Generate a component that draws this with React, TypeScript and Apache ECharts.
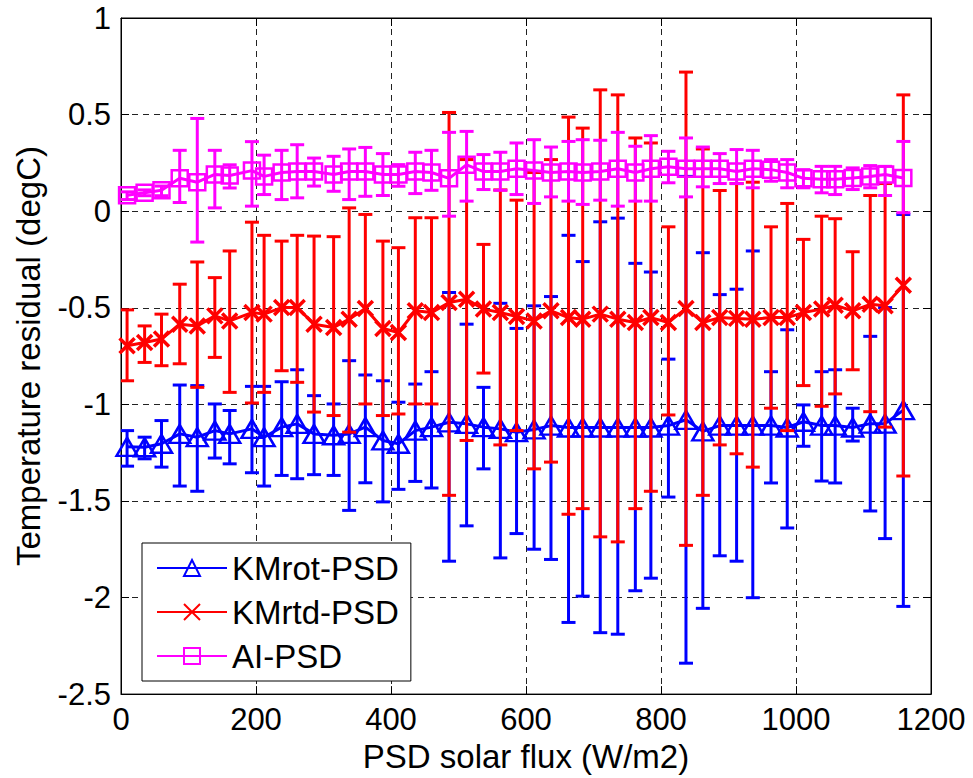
import React, { useEffect, useRef } from "react";
import * as echarts from "echarts";

// Solar flux bin centres (W/m2)
const fluxBins = [
  9, 35, 60, 87, 113, 139, 161, 194, 212, 238, 261, 286, 315, 338, 362, 388, 411, 436, 460, 486,
  512, 537, 562, 586, 612, 637, 663, 684, 710, 736, 762, 785, 811, 837, 862, 887, 912, 936, 963,
  987, 1011, 1038, 1058, 1084, 1110, 1132, 1159,
];

// KMrot-PSD
const kmrotMean = [
  -1.22, -1.222, -1.204, -1.153, -1.17, -1.136, -1.153, -1.127, -1.17, -1.118, -1.101, -1.153,
  -1.16, -1.153, -1.118, -1.187, -1.204, -1.136, -1.118, -1.093, -1.101, -1.118, -1.127, -1.144,
  -1.13, -1.11, -1.12, -1.12, -1.12, -1.12, -1.12, -1.12, -1.11, -1.08, -1.14, -1.11, -1.11, -1.11,
  -1.11, -1.12, -1.09, -1.11, -1.11, -1.12, -1.1, -1.1, -1.03,
];
const kmrotLow = [
  -1.32, -1.282, -1.325, -1.423, -1.45, -1.278, -1.308, -1.354, -1.423, -1.368, -1.385, -1.364,
  -1.368, -1.549, -1.406, -1.505, -1.44, -1.399, -1.433, -1.812, -1.629, -1.334, -1.795, -1.669,
  -1.75, -1.803, -2.129, -1.993, -2.182, -2.19, -1.965, -1.9, -1.48, -2.34, -2.056, -1.784, -1.812,
  -2.001, -1.407, -1.64, -1.217, -1.397, -1.407, -1.19, -1.552, -1.695, -2.046,
];
const kmrotHigh = [
  -1.136, -1.17, -1.084, -0.9, -0.903, -0.998, -1.032, -0.907, -0.907, -0.883, -0.821, -0.955,
  -0.998, -0.774, -0.848, -0.878, -0.989, -0.895, -0.831, -0.421, -0.585, -0.912, -0.477, -0.607,
  -0.49, -0.442, -0.125, -0.261, -0.055, -0.036, -0.27, -0.315, -0.766, 0.18, -0.215, -0.432,
  -0.404, -0.206, -0.831, -0.614, -1.003, -0.831, -0.821, -1.02, -0.648, -0.499, -0.017,
];

// KMrtd-PSD
const kmrtdMean = [
  -0.697, -0.68, -0.662, -0.585, -0.594, -0.542, -0.568, -0.525, -0.533, -0.499, -0.499, -0.585,
  -0.602, -0.559, -0.504, -0.607, -0.628, -0.516, -0.525, -0.473, -0.456, -0.507, -0.525, -0.545,
  -0.568, -0.516, -0.551, -0.559, -0.533, -0.559, -0.576, -0.551, -0.576, -0.504, -0.576, -0.551,
  -0.555, -0.559, -0.551, -0.551, -0.525, -0.507, -0.487, -0.516, -0.482, -0.49, -0.384,
];
const kmrtdLow = [
  -0.878, -0.783, -0.8, -0.79, -0.912, -0.757, -0.938, -0.993, -0.938, -0.826, -0.886, -1.04,
  -1.058, -1.144, -0.998, -1.058, -1.05, -0.998, -0.998, -1.471, -1.187, -0.838, -1.21, -1.136,
  -1.334, -1.299, -1.569, -1.54, -1.686, -1.712, -1.54, -1.45, -1.055, -1.73, -1.471, -1.21, -1.256,
  -1.325, -1.02, -1.136, -0.903, -1.01, -0.946, -0.821, -1.038, -1.118, -1.371,
];
const kmrtdHigh = [
  -0.511, -0.594, -0.533, -0.378, -0.263, -0.344, -0.206, -0.057, -0.125, -0.155, -0.125, -0.129,
  -0.132, 0.017, -0.017, -0.155, -0.189, -0.034, -0.034, 0.511, 0.267, -0.172, 0.11, 0.057, 0.2,
  0.267, 0.487, 0.43, 0.628, 0.602, 0.379, 0.353, -0.081, 0.72, 0.322, 0.107, 0.143, 0.15, -0.081,
  0.04, -0.146, -0.026, -0.039, -0.21, 0.081, 0.143, 0.602,
];

// AI-PSD
const aiMean = [
  0.083, 0.095, 0.108, 0.17, 0.15, 0.19, 0.185, 0.21, 0.18, 0.2, 0.205, 0.205, 0.19, 0.205, 0.205,
  0.19, 0.19, 0.205, 0.2, 0.17, 0.24, 0.205, 0.205, 0.22, 0.21, 0.2, 0.205, 0.2, 0.205, 0.22, 0.2,
  0.22, 0.23, 0.22, 0.22, 0.22, 0.205, 0.22, 0.215, 0.2, 0.17, 0.165, 0.165, 0.172, 0.18, 0.19, 0.172,
];
const aiLow = [
  0.06, 0.08, 0.08, 0.045, -0.16, 0.017, 0.12, 0.026, 0.086, 0.06, 0.069, 0.13, 0.103, 0.06, 0.077,
  0.081, 0.129, 0.091, 0.108, -0.026, 0.052, 0.112, 0.108, 0.086, 0.04, 0.074, 0.052, 0.035, 0.057,
  0.026, 0.052, 0.052, 0.147, 0.074, 0.126, 0.143, 0.143, 0.121, 0.155, 0.121, 0.121, 0.095, 0.086,
  0.112, 0.121, 0.081, -0.008,
];
const aiHigh = [
  0.1, 0.11, 0.13, 0.315, 0.48, 0.315, 0.24, 0.36, 0.29, 0.315, 0.344, 0.275, 0.284, 0.322, 0.33,
  0.298, 0.241, 0.305, 0.315, 0.408, 0.413, 0.293, 0.305, 0.353, 0.37, 0.332, 0.361, 0.37, 0.367,
  0.408, 0.336, 0.391, 0.31, 0.379, 0.332, 0.298, 0.319, 0.315, 0.267, 0.267, 0.215, 0.232, 0.232,
  0.224, 0.236, 0.232, 0.361,
];

const xTicks = { min: 0, max: 1200, interval: 200 };
const yTicks = { min: -2.5, max: 1, interval: 0.5 };

const FONT = "'Liberation Sans', Arial, Helvetica, sans-serif";
const FS_TICK = 31;
const FS_TITLE = 33;

function errorBars(name: string, color: string, low: number[], high: number[], z: number) {
  return {
    type: "custom",
    name,
    z,
    silent: true,
    clip: true,
    data: fluxBins.map((x, i) => [x, low[i], high[i]]),
    encode: { x: 0, y: [1, 2] },
    renderItem: (_params: any, api: any) => {
      const x = api.value(0);
      const pl = api.coord([x, api.value(1)]);
      const ph = api.coord([x, api.value(2)]);
      const cw = 7;
      const style = { stroke: color, lineWidth: 3, fill: "none" };
      return {
        type: "group",
        children: [
          { type: "line", shape: { x1: pl[0], y1: pl[1], x2: ph[0], y2: ph[1] }, style },
          { type: "line", shape: { x1: pl[0] - cw, y1: pl[1], x2: pl[0] + cw, y2: pl[1] }, style },
          { type: "line", shape: { x1: ph[0] - cw, y1: ph[1], x2: ph[0] + cw, y2: ph[1] }, style },
        ],
      };
    },
  };
}

function meanLine(name: string, color: string, mean: number[], symbol: string, size: any, bw: number, z: number) {
  return {
    type: "line",
    name,
    z,
    silent: true,
    data: fluxBins.map((x, i) => [x, mean[i]]),
    symbol,
    symbolSize: size,
    showSymbol: true,
    showAllSymbol: true,
    lineStyle: { color, width: 3 },
    itemStyle: { color: "rgba(255,255,255,0)", borderColor: color, borderWidth: bw },
    emphasis: { disabled: true },
  };
}

export default function App() {
  const ref = useRef<HTMLDivElement>(null);
  useEffect(() => {
    document.body.style.margin = "0";
    if (!ref.current) return;
    const chart = echarts.init(ref.current, null, { renderer: "svg" });
    const gridLine = { show: true, lineStyle: { color: "#222", width: 1, type: [6, 5] } };
    const axisCommon = {
      axisLine: { show: true, onZero: false, lineStyle: { color: "#000", width: 1 } },
      axisTick: { show: true, inside: true, length: 8, lineStyle: { color: "#000" } },
    };
    chart.setOption({
      animation: false,
      textStyle: { fontFamily: FONT },
      grid: { left: 121, right: 42, top: 18, bottom: 82, show: true, borderColor: "#000", borderWidth: 1, backgroundColor: "#fff" },
      legend: {
        left: 142,
        top: 543,
        orient: "vertical",
        data: ["KMrot-PSD", "KMrtd-PSD", "AI-PSD"],
        selectedMode: false,
        itemWidth: 70,
        itemHeight: 20,
        itemGap: 10,
        padding: [8, 12, 8, 14],
        borderColor: "#000",
        borderWidth: 1,
        borderRadius: 0,
        backgroundColor: "#fff",
        textStyle: { fontSize: FS_TITLE, color: "#000", fontFamily: FONT, lineHeight: 34 },
      },
      xAxis: [
        {
          type: "value",
          ...xTicks,
          position: "bottom",
          ...axisCommon,
          axisLabel: { fontSize: FS_TICK, color: "#000", margin: 10, fontFamily: FONT, formatter: (v: number) => String(v) },
          splitLine: gridLine,
          name: "PSD solar flux (W/m2)",
          nameLocation: "middle",
          nameGap: 40,
          nameTextStyle: { fontSize: FS_TITLE, color: "#000", fontFamily: FONT },
        },
        {
          type: "value",
          ...xTicks,
          position: "top",
          ...axisCommon,
          axisLabel: { show: false },
          splitLine: { show: false },
        },
      ],
      yAxis: [
        {
          type: "value",
          ...yTicks,
          position: "left",
          ...axisCommon,
          axisLabel: { fontSize: FS_TICK, color: "#000", margin: 10, fontFamily: FONT, formatter: (v: number) => String(v) },
          splitLine: gridLine,
          name: "Temperature residual (degC)",
          nameLocation: "middle",
          nameGap: 76,
          nameRotate: 90,
          nameTextStyle: { fontSize: FS_TITLE, color: "#000", fontFamily: FONT },
        },
        {
          type: "value",
          ...yTicks,
          position: "right",
          ...axisCommon,
          axisLabel: { show: false },
          splitLine: { show: false },
        },
      ],
      series: [
        errorBars("KMrot-PSD error", "#0000ff", kmrotLow, kmrotHigh, 2),
        meanLine("KMrot-PSD", "#0000ff", kmrotMean, "triangle", [21, 18], 2.5, 3),
        errorBars("KMrtd-PSD error", "#ff0000", kmrtdLow, kmrtdHigh, 4),
        meanLine("KMrtd-PSD", "#ff0000", kmrtdMean, "path://M0,0L10,10M10,0L0,10", 15, 3.5, 5),
        errorBars("AI-PSD error", "#ff00ff", aiLow, aiHigh, 6),
        meanLine("AI-PSD", "#ff00ff", aiMean, "rect", 16, 2.5, 7),
      ],
    });
    return () => chart.dispose();
  }, []);
  return <div ref={ref} style={{ width: 973, height: 778 }} />;
}
